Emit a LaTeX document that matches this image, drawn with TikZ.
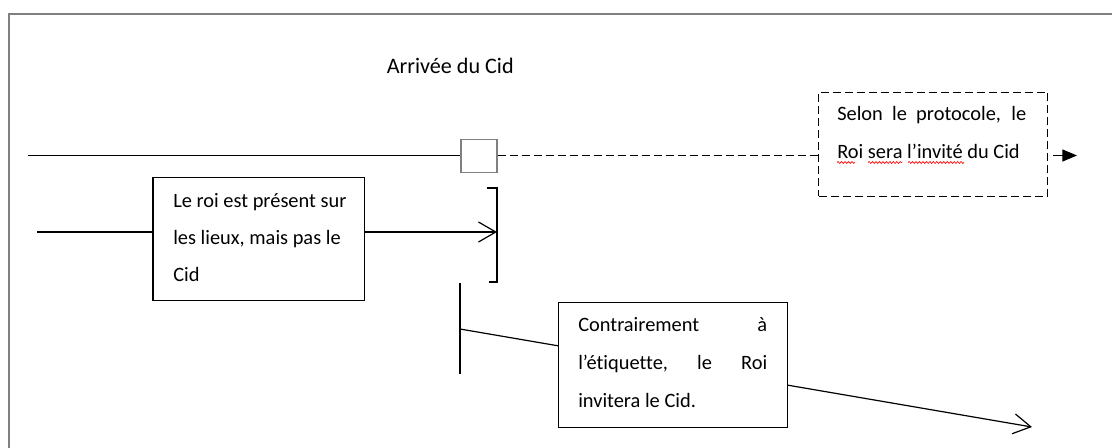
\documentclass[tikz,border=0pt]{standalone}
\usepackage{fontspec}
\setmainfont[Ligatures=NoCommon]{Carlito}
\usetikzlibrary{arrows.meta,decorations.pathmorphing}
\begin{document}
\begin{tikzpicture}[x=0.75pt,y=-0.75pt,
  ln/.style={line width=0.9pt, black},
  txt/.style={anchor=base west, inner sep=0pt, font=\fontsize{15.3}{19}\selectfont},
  boxa/.style={draw, line width=0.9pt, fill=white, inner sep=0pt, anchor=north west},
  dsh/.style={dash pattern=on 6pt off 3pt},
  barb/.style={-{Straight Barb[length=13pt,width=15pt,line width=0.9pt]}},
  wavy/.style={red, line width=0.5pt, decorate, decoration={snake, amplitude=0.7pt, segment length=2.6pt}}
]
\useasboundingbox (0,0) rectangle (1112,447);
\begin{scope}
  \clip (0,0) rectangle (1112,447);
  \draw[gray, line width=0.9pt] (9,14) rectangle (1140,480);
\end{scope}

% title
\node[txt, font=\fontsize{16.6}{20}\selectfont] (title) at (386.5,73.5) {Arrivée du Cid};

% top timeline
\coordinate (t0) at (28,155.5);
\node[draw=gray, line width=0.9pt, fill=white, minimum width=27pt, minimum height=24.75pt, inner sep=0pt] (sq) at (479,156.3) {};
\node[boxa, dsh, minimum width=171.75pt, minimum height=78pt] (db) at (818,91.7) {};
\coordinate (out) at (1077,155.5);
\draw[ln] (t0) -- (t0 -| sq.west);
\draw[ln, dsh] (t0 -| sq.east) -- (t0 -| db.west);
\draw[ln, -{Triangle[length=11pt,width=9pt]}, shorten <=3.75pt] (out -| db.east) -- (out);
\node[txt] (dt1) at (837,120.7) {\makebox[141.75pt][s]{Selon le protocole, le}};
\node[txt] (dt2) at (837,158.3) {Roi sera l’invité du Cid};
\draw[wavy] (837,162.5) -- (855,162.5);
\draw[wavy] (868,162.5) -- (902,162.5);
\draw[wavy] (908,162.5) -- (964,162.5);

% box 1 and bracket
\node[boxa, minimum width=158.8pt, minimum height=92.5pt] (b1) at (152.3,176.7) {};
\node[txt] (b1t1) at (173,207.5) {Le roi est présent sur};
\node[txt] (b1t2) at (173,244.5) {les lieux, mais pas le};
\node[txt] (b1t3) at (173,281.5) {Cid};
\coordinate (in1) at (37,232);
\coordinate (brt) at (497,188);
\coordinate (brb) at (497,282);
\coordinate (brm) at (497,232);
\draw[ln] (in1) -- (in1 -| b1.west);
\draw[ln, barb] (in1 -| b1.east) -- (brm);
\draw[ln] (487,188) -- (brt) -- (brb) -- (489,282);

% lower part
\coordinate (v1) at (460,283);
\coordinate (v2) at (460,374);
\coordinate (d1) at (460,329);
\coordinate (d2) at (1032,427);
\draw[ln] (v1) -- (v2);
\draw[ln, barb] (d1) -- (d2);
\node[boxa, minimum width=171.75pt, minimum height=93.75pt] (b2) at (558,302) {};
\node[txt] (b2t1) at (578,331) {\makebox[141.75pt][s]{Contrairement\hfill à}};
\node[txt] (b2t2) at (578,369.5) {\makebox[141.75pt][s]{l’étiquette,\hfill le\hfill Roi}};
\node[txt] (b2t3) at (578,407.5) {invitera le Cid.};
\end{tikzpicture}
\end{document}
